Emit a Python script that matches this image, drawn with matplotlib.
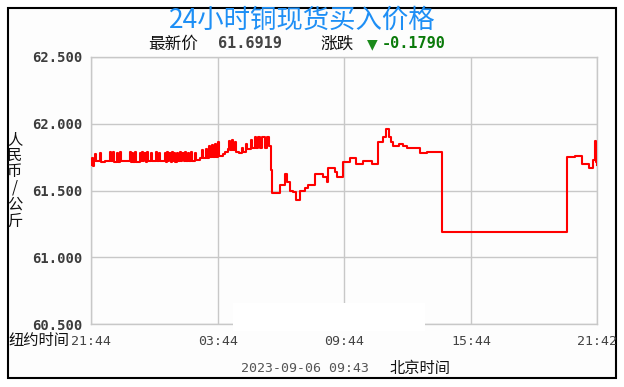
import matplotlib
matplotlib.use('Agg')
import matplotlib.pyplot as plt
from matplotlib.patches import Rectangle

# ---------------- data ----------------
title = '24小时铜现货买入价格'
latest_label = '最新价'
latest_value = '61.6919'
change_label = '涨跌'
change_value = '-0.1790'
date_text = '2023-09-06 09:43'
ylabel = '人民币/公斤'

# minutes since 21:44 (New York time)
t_min = [0, 3, 5, 8, 10, 13, 26, 29, 40, 55, 58, 62, 66, 75, 78, 82, 85,
         110, 113, 117, 120, 124, 127, 139, 142, 146, 149, 152, 155, 160, 163,
         170, 173, 185, 188, 193, 196, 210, 212, 216, 219, 223, 226, 230, 233,
         237, 240, 245, 248, 252, 255, 260, 263, 268, 271, 275, 278, 283, 286,
         295, 296, 299, 310, 315, 318, 326, 329, 335, 338, 344, 347, 352, 355,
         360, 363, 375, 380, 390, 393, 396, 400, 403, 410, 413, 420, 430, 433,
         440, 443, 455, 458, 465, 470, 475, 480, 485, 495, 500, 507,
         512, 515, 537, 551, 557, 566, 574, 583, 594, 608, 617, 637, 659, 671,
         674, 693, 699, 716, 736, 753, 773, 799, 816, 830, 838, 847, 853, 858,
         875, 887, 898, 935, 955, 998, 1353, 1376, 1395, 1415, 1427, 1432,
         1434, 1436, 1438]
price = [61.69, 61.74, 61.68, 61.72, 61.77, 61.72, 61.78, 61.71, 61.72, 61.79,
         61.72, 61.79, 61.71, 61.78, 61.71, 61.79, 61.72,
         61.79, 61.71, 61.78, 61.71, 61.79, 61.71, 61.78, 61.72, 61.79, 61.72,
         61.78, 61.71, 61.79, 61.72,
         61.78, 61.72, 61.79, 61.72, 61.78, 61.72, 61.78, 61.71, 61.79, 61.72,
         61.78, 61.71, 61.79, 61.72,
         61.78, 61.71, 61.78, 61.72, 61.79, 61.72, 61.78, 61.72, 61.79, 61.72,
         61.78, 61.72, 61.79, 61.72,
         61.73, 61.78, 61.73, 61.74, 61.80, 61.74, 61.81, 61.74, 61.83, 61.75,
         61.84, 61.75, 61.85, 61.75,
         61.86, 61.76, 61.77, 61.79, 61.81, 61.87, 61.80, 61.88, 61.80, 61.86,
         61.79, 61.78, 61.82, 61.79,
         61.85, 61.81, 61.88, 61.82, 61.90, 61.82, 61.90, 61.82, 61.90, 61.82,
         61.90, 61.83,
         61.65, 61.48, 61.54, 61.62, 61.56, 61.50, 61.49, 61.43, 61.50, 61.52,
         61.54, 61.62, 61.60, 61.56,
         61.67, 61.64, 61.60, 61.71, 61.74, 61.70, 61.72, 61.70, 61.86, 61.90,
         61.96, 61.90, 61.86, 61.83,
         61.85, 61.83, 61.82, 61.78, 61.79, 61.19, 61.75, 61.76, 61.70, 61.67,
         61.73, 61.87,
         61.79, 61.71, 61.69]

x_ticks = [0, 360, 720, 1080, 1438]
x_labels = ['21:44', '03:44', '09:44', '15:44', '21:42']
y_ticks = [60.5, 61.0, 61.5, 62.0, 62.5]
y_labels = ['60.500', '61.000', '61.500', '62.000', '62.500']

# ---------------- figure ----------------
W, H = 624, 387
fig = plt.figure(figsize=(W / 100, H / 100), dpi=100)
fig.patch.set_facecolor('white')

def fx(x):
    return x / W

def fy(y):
    return 1 - y / H

CJK = ['Noto Sans CJK SC', 'DejaVu Sans']
MONO = 'DejaVu Sans Mono'

fig.add_artist(Rectangle((fx(8), fy(378)), fx(616) - fx(8), fy(8) - fy(378),
                         transform=fig.transFigure, facecolor='#fdfdfd',
                         edgecolor='black', lw=1.5, zorder=-1))

ax = fig.add_axes([fx(91), fy(324), fx(597) - fx(91), fy(57) - fy(324)])
ax.set_facecolor('#fdfdfd')
ax.plot(t_min, price, color='#ff0000', lw=1.5, drawstyle='steps-post', zorder=3)
ax.set_xlim(0, 1438)
ax.set_ylim(60.5, 62.5)
ax.set_xticks(x_ticks)
ax.set_xticklabels(x_labels, fontfamily=MONO, fontsize=9.5, color='#444444')
ax.set_yticks(y_ticks)
ax.set_yticklabels(y_labels, fontfamily=MONO, fontweight='bold', fontsize=10,
                   color='#3c3c3c')
ax.tick_params(axis='both', length=0)
ax.tick_params(axis='y', pad=6)
ax.tick_params(axis='x', pad=8)
ax.grid(True, color='#c8c8c8', lw=1.0)
for s in ax.spines.values():
    s.set_color('#c8c8c8')
    s.set_linewidth(1.0)

# titles / labels
fig.text(fx(302), fy(20), title, color='#1e8ff5', fontsize=19, fontweight='medium',
         ha='center', va='center', family=CJK)
fig.text(fx(148), fy(44), latest_label, fontsize=12, ha='left', va='center',
         family=CJK, color='#111111')
fig.text(fx(218), fy(44), latest_value, fontsize=11, ha='left', va='center',
         family=MONO, fontweight='bold', color='#444444')
fig.text(fx(320), fy(44), change_label, fontsize=12, ha='left', va='center',
         family=CJK, color='#111111')
fig.text(fx(367), fy(44), '▼', fontsize=10, ha='left', va='center',
         color='#1a8a1a', family='DejaVu Sans')
fig.text(fx(382), fy(44), change_value, fontsize=11, ha='left', va='center',
         family=MONO, fontweight='bold', color='#0a7a0a')

fig.text(fx(15), fy(180), '\n'.join(ylabel), fontsize=11, ha='center',
         va='center', linespacing=0.95, family=CJK, color='#111111')
fig.text(fx(69), fy(341), '纽约时间', fontsize=11, ha='right', va='center',
         family=CJK, color='#111111')
fig.text(fx(305), fy(368), date_text, fontsize=9.5, ha='center', va='center',
         family=MONO, color='#555555')
fig.text(fx(390), fy(368), '北京时间', fontsize=11, ha='left', va='center',
         family=CJK, color='#111111')

# white watermark patch present in the reference
fig.add_artist(Rectangle((fx(233), fy(331)), fx(425) - fx(233), fy(303) - fy(331),
                         transform=fig.transFigure, facecolor='white',
                         edgecolor='none', zorder=10))

fig.savefig('out.png', dpi=100)
